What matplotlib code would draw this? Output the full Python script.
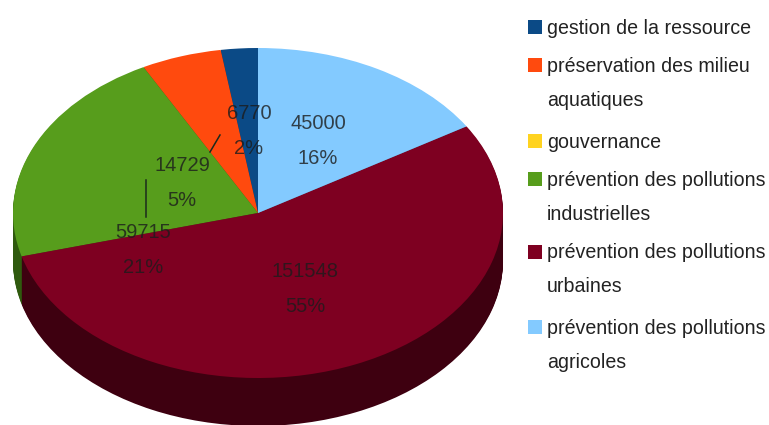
import matplotlib
matplotlib.use("Agg")
import matplotlib.pyplot as plt
from matplotlib.patches import Rectangle

categories = ["gestion de la ressource", "préservation des milieu\naquatiques", "gouvernance",
              "prévention des pollutions\nindustrielles", "prévention des pollutions\nurbaines",
              "prévention des pollutions\nagricoles"]
values = [6770, 14729, 0, 59715, 151548, 45000]
percents = ["2%", "5%", "", "21%", "55%", "16%"]
colors = ["#0b4a86", "#ff4a0e", "#ffd320", "#579d1c", "#7e0021", "#83caff"]
side_colors = ["#052a4d", "#8f2a08", "#8f7612", "#2f5a0e", "#3e0010", "#4a7390"]

W, H = 769, 425
CX, CY, RX, RY, DEPTH = 258, 213, 245, 165, 48

fig = plt.figure(figsize=(W / 100, H / 100), dpi=100, facecolor="white")
ax = fig.add_axes([0, 0, 1, 1])

steps = 48
for i in range(steps, 0, -1):
    ax.pie(values, colors=side_colors, startangle=90, counterclock=True,
           center=(0, -DEPTH * i / steps / RY), radius=1, wedgeprops=dict(linewidth=0))
ax.pie(values, colors=colors, startangle=90, counterclock=True,
       center=(0, 0), radius=1, wedgeprops=dict(linewidth=0))

ax.set_aspect("auto")
ax.set_xlim(-CX / RX, (W - CX) / RX)
ax.set_ylim((CY - H) / RY, CY / RY)
ax.axis("off")


def px(x, y):
    return (x - CX) / RX, (CY - y) / RY


font = "Liberation Sans"
label_pos = [(249, 131), (182, 183), None, (143, 250), (305, 289), (318, 141)]
for v, p, pos in zip(values, percents, label_pos):
    if pos is None:
        continue
    x, y = px(*pos)
    ax.text(x, y, f"{v}\n{p}", ha="center", va="center", fontsize=14.5, family=font,
            color="#1c1c1c", alpha=0.8, linespacing=2.05)

for (x0, y0), (x1, y1) in [((210, 152), (220, 135)), ((146, 180), (146, 217))]:
    a, b = px(x0, y0), px(x1, y1)
    ax.plot([a[0], b[0]], [a[1], b[1]], color="#1c2a1c", lw=1.1)

# legend laid out by hand: the swatch sits on the first line of a wrapped label
entry_y = [28, 66, 142, 180, 253, 328]
line_pitch = 34
for label, color, y0 in zip(categories, colors, entry_y):
    x0, y_top = px(528, y0 - 8)
    x1, y_bot = px(542, y0 + 6)
    ax.add_patch(Rectangle((x0, y_bot), x1 - x0, y_top - y_bot, facecolor=color, edgecolor="none"))
    for k, line in enumerate(label.split("\n")):
        x, y = px(547, y0 + k * line_pitch)
        ax.text(x, y, line, ha="left", va="center", fontsize=14.1, family=font, color="#222222")

fig.savefig("out.png", dpi=100)
